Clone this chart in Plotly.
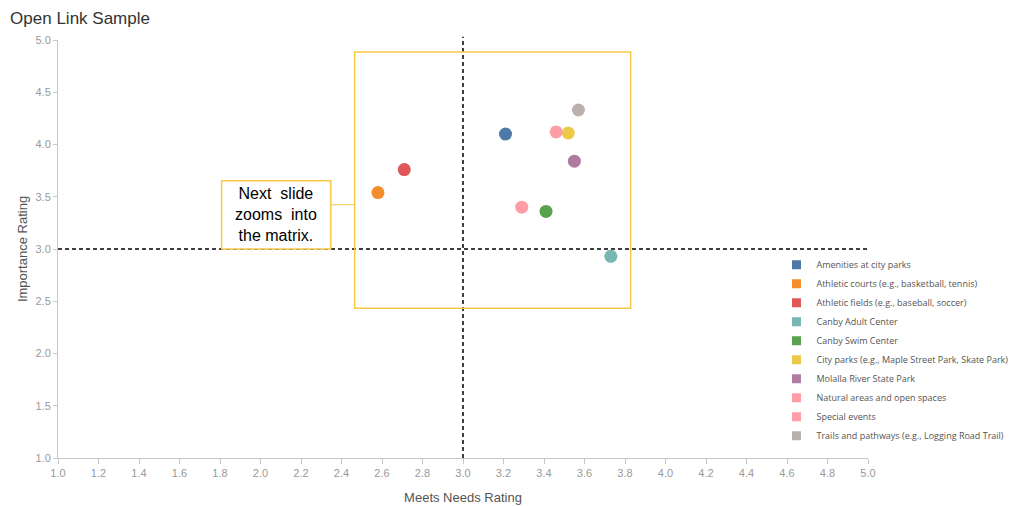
import plotly.graph_objects as go

categories = [
    "Amenities at city parks",
    "Athletic courts (e.g., basketball, tennis)",
    "Athletic fields (e.g., baseball, soccer)",
    "Canby Adult Center",
    "Canby Swim Center",
    "City parks (e.g., Maple Street Park, Skate Park)",
    "Molalla River State Park",
    "Natural areas and open spaces",
    "Special events",
    "Trails and pathways (e.g., Logging Road Trail)",
]
meets_needs = [3.21, 2.58, 2.71, 3.73, 3.41, 3.52, 3.55, 3.46, 3.29, 3.57]
importance = [4.10, 3.54, 3.76, 2.93, 3.36, 4.11, 3.84, 4.12, 3.40, 4.33]
colors = ["#4E79A7", "#F28E2B", "#E15759", "#76B7B2", "#59A14F",
          "#EDC948", "#B07AA1", "#FF9DA7", "#FF9DA7", "#BAB0AC"]

x_ticks = [round(1.0 + 0.2 * i, 1) for i in range(21)]
y_ticks = [round(1.0 + 0.5 * i, 1) for i in range(9)]

fig = go.Figure()
for name, xv, yv, c in zip(categories, meets_needs, importance, colors):
    fig.add_trace(go.Scatter(
        x=[xv], y=[yv], mode="markers", name=name,
        marker=dict(color=c, size=13, line=dict(width=0)),
        showlegend=False, hovertemplate=name + "<br>%{x}, %{y}<extra></extra>"))
for name, c in zip(categories, colors):
    fig.add_trace(go.Scatter(
        x=[None], y=[None], mode="markers", name=name,
        marker=dict(color=c, size=9, symbol="square"), showlegend=True))

gold = "#F7C948"
# reference lines
fig.add_shape(type="line", xref="x", yref="paper", x0=3.0, x1=3.0, y0=0, y1=1.008,
              line=dict(color="black", width=1.5, dash="4px,3px"))
fig.add_shape(type="line", xref="paper", yref="y", x0=0, x1=1, y0=3.0, y1=3.0,
              line=dict(color="black", width=1.5, dash="4px,3px"))
# highlight box
fig.add_shape(type="rect", xref="x", yref="y", x0=2.465, x1=3.828, y0=2.434, y1=4.886,
              line=dict(color=gold, width=1.5))
# callout box and connector
fig.add_shape(type="rect", xref="x", yref="y", x0=1.808, x1=2.347, y0=3.0, y1=3.653,
              line=dict(color=gold, width=1.5), fillcolor="white")
fig.add_shape(type="line", xref="x", yref="y", x0=2.347, x1=2.465, y0=3.424, y1=3.424,
              line=dict(color=gold, width=1))
fig.add_annotation(x=(1.808 + 2.347) / 2, y=3.33, xref="x", yref="y",
                   text="Next  slide<br>zooms  into<br>the matrix.", showarrow=False,
                   align="center", font=dict(family="Liberation Sans, Arial", size=16, color="black"))

fig.update_layout(
    width=1012, height=506,
    margin=dict(l=58, r=144, t=40, b=48, autoexpand=False),
    paper_bgcolor="white", plot_bgcolor="white",
    title=dict(text="Open Link Sample", x=0.01, xanchor="left", y=0.964, yanchor="middle",
               pad=dict(l=0, t=0, b=0, r=0),
               font=dict(family="Liberation Sans, Arial", size=17, color="#333333")),
    showlegend=True,
    legend=dict(x=0.887, xanchor="left", y=0.258, yanchor="middle",
                font=dict(family="Open Sans", size=9, color="#555555"),
                bgcolor="rgba(0,0,0,0)", itemwidth=30, tracegroupgap=0),
    font=dict(family="Liberation Sans, Arial"),
)
fig.update_xaxes(range=[1.0, 5.0], tickvals=x_ticks, ticktext=[f"{v:.1f}" for v in x_ticks],
                 automargin=False,
                 showgrid=False, zeroline=False, showline=True, linecolor="#c8c8c8",
                 ticks="outside", ticklen=5, tickcolor="#c8c8c8",
                 tickfont=dict(size=11, color="#999999"),
                 title=dict(text="Meets Needs Rating", font=dict(size=13, color="#555555"), standoff=14))
fig.update_yaxes(range=[1.0, 5.0], tickvals=y_ticks, ticktext=[f"{v:.1f}" for v in y_ticks],
                 automargin=False,
                 showgrid=False, zeroline=False, showline=True, linecolor="#c8c8c8",
                 ticks="outside", ticklen=4, tickcolor="#c8c8c8",
                 tickfont=dict(size=11, color="#999999"),
                 title=dict(text="Importance Rating", font=dict(size=13, color="#555555"), standoff=4))

fig.write_html("out.html", config={"displayModeBar": False},
               post_script="document.body.style.margin='0px';")
